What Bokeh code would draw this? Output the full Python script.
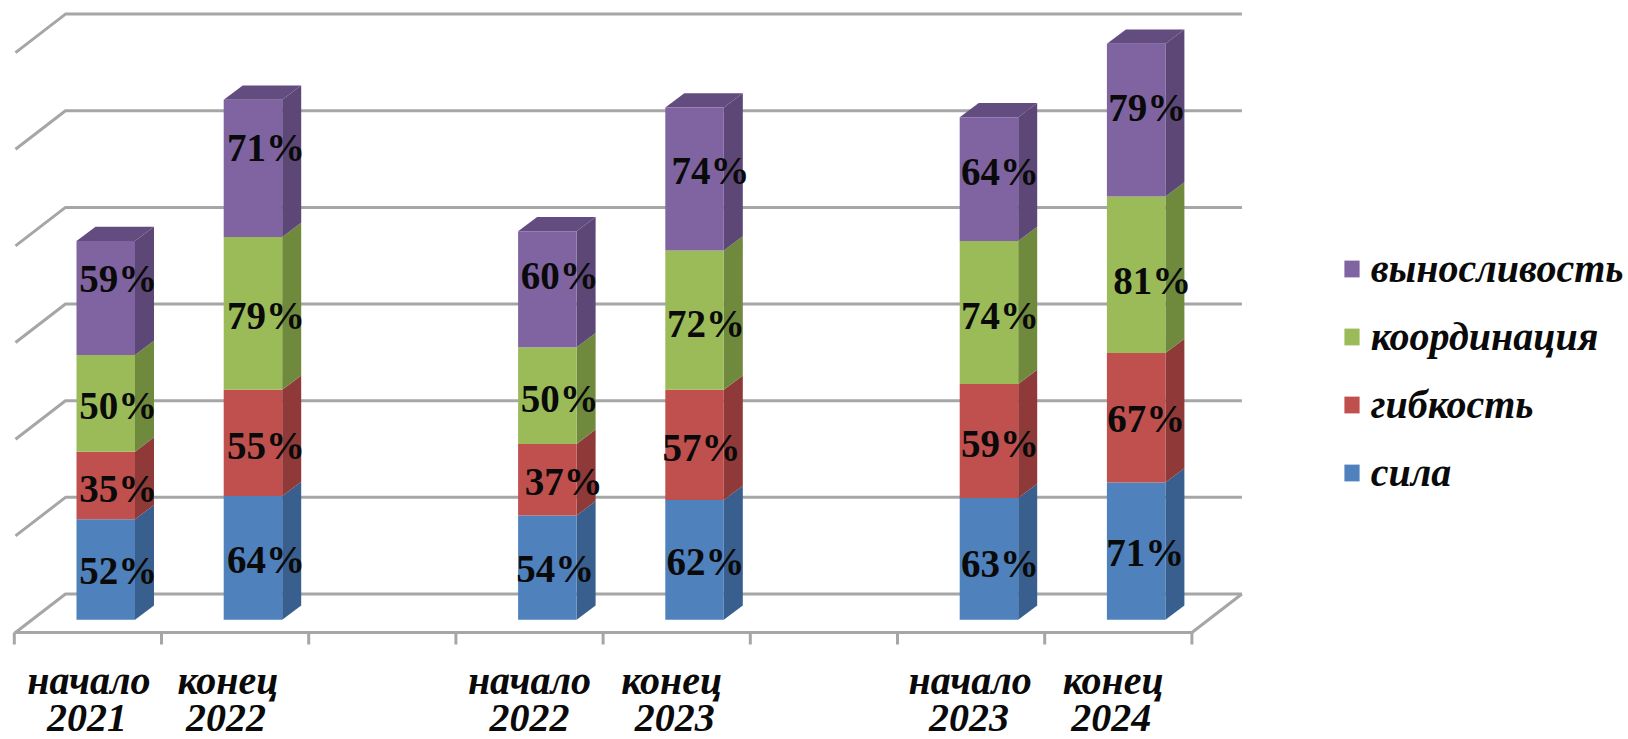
from bokeh.plotting import figure
from bokeh.models import ColumnDataSource, Legend, LegendItem
from bokeh.core.properties import value
from bokeh.embed import file_html
from bokeh.resources import INLINE

# ---- data ----
positions = [0, 1, 3, 4, 6, 7]
tick_line1 = ["начало", "конец", "начало", "конец", "начало", "конец"]
tick_line2 = ["2021", "2022", "2022", "2023", "2023", "2024"]
sila = [52, 64, 54, 62, 63, 71]
gibkost = [35, 55, 37, 57, 59, 67]
koordinatsiya = [50, 79, 50, 72, 74, 81]
vynoslivost = [59, 71, 60, 74, 64, 79]
series_names = ["сила", "гибкость", "координация", "выносливость"]
grid_values = [0, 50, 100, 150, 200, 250, 300]
boundaries = [0, 1, 2, 3, 4, 5, 6, 7, 8]

# ---- styling ----
front_colors = ["#4F81BD", "#C0504D", "#9BBB59", "#8064A2"]
side_colors = ["#385F8E", "#8F3A38", "#6F8A3C", "#5C4776"]
top_colors = ["#3F6A9C", "#A0403E", "#7C9A46", "#634C80"]
GRID = "#A6A6A6"
TEXT = "#0A0A0A"
W, H = 1628, 739
PX_X, PX_Y = 147.2, 1.933          # pixels per category / per percent
ORIGIN_X, FLOOR_Y = 13.8, 632      # pixels of the front-left floor corner
BASE_Y = 619.3                     # pixel of value 0 at the bars' front
BAR_OFF, BAR_W = 62.2 / PX_X, 58.5 / PX_X
DX, DY = 19 / PX_X, 14.3 / PX_Y
WALL_DX, WALL_DY = 50 / PX_X, 38.5 / PX_Y
# offsets of the data labels from the middle of their segment, pixels
# (one row per bar, one column per series)
label_dy = [
    [1, 3, 2, -19],
    [2, 3, 2, -21],
    [1, 2, 3, -14],
    [2, 3, 3, -9],
    [5, 3, 3, -8],
    [1, 1, 6, -13],
]
label_dx = [
    [12.5, 12.5, 12.5, 12.5],
    [13, 13, 13, 13],
    [8, 16.5, 12.5, 12.5],
    [11, 7, 11.5, 16],
    [11, 11, 11, 11],
    [9, 10, 16, 11],
]
line1_dx = [1, -7, 0, -5, -1, -5]
line2_dx = [-1, -9, 0, -2, -2, -7]

x_start = -ORIGIN_X / PX_X
floor_v = -(FLOOR_Y - BASE_Y) / PX_Y
y_start = -(H - BASE_Y) / PX_Y

p = figure(width=W, height=H, output_backend="svg", toolbar_location=None,
           x_range=(x_start, x_start + W / PX_X),
           y_range=(y_start, y_start + H / PX_Y),
           x_axis_location=None, y_axis_location=None,
           min_border_left=0, min_border_right=0, min_border_top=0,
           min_border_bottom=0, outline_line_color=None)
p.grid.visible = False

# back wall lines
xs_grid, ys_grid = [], []
for v in grid_values:
    xs_grid.append([0.008, 0.008 + WALL_DX, 8 + WALL_DX])
    ys_grid.append([floor_v + v, floor_v + WALL_DY + v, floor_v + WALL_DY + v])
p.multi_line(xs_grid, ys_grid, line_color=GRID, line_width=3)
p.line([8, 8 + WALL_DX], [floor_v, floor_v + WALL_DY], line_color=GRID, line_width=3)

# floor edge with separators between categories
p.line([boundaries[0], boundaries[-1]], [floor_v, floor_v], line_color=GRID, line_width=3)
p.segment(x0=boundaries, x1=boundaries, y0=[floor_v] * 9, y1=[floor_v - 12 / PX_Y] * 9,
          line_color=GRID, line_width=3)

# bars
stack = [sila, gibkost, koordinatsiya, vynoslivost]
base = [0] * len(positions)
items = []
lab_x, lab_y, lab_t, lab_ox, lab_oy = [], [], [], [], []
for s, vals in enumerate(stack):
    top = [b + v for b, v in zip(base, vals)]
    left = [x + BAR_OFF for x in positions]
    right = [x + BAR_W for x in left]
    p.patches([[r, r + DX, r + DX, r] for r in right],
              [[b, b + DY, t + DY, t] for b, t in zip(base, top)],
              fill_color=side_colors[s], line_color=None)
    if s == 3:
        p.patches([[l, l + DX, r + DX, r] for l, r in zip(left, right)],
                  [[t, t + DY, t + DY, t] for t in top],
                  fill_color=top_colors[s], line_color=None)
    q = p.quad(left=left, right=right, bottom=base, top=top,
               fill_color=front_colors[s], line_color=None)
    items.append(LegendItem(label=series_names[s], renderers=[q]))
    for i, v in enumerate(vals):
        lab_x.append(left[i] + BAR_W / 2)
        lab_y.append(base[i] + v / 2)
        lab_t.append(f"{v}%")
        lab_ox.append(label_dx[i][s])
        lab_oy.append(label_dy[i][s])
    base = top

src = ColumnDataSource(dict(x=lab_x, y=lab_y, t=lab_t, ox=lab_ox, oy=lab_oy))
p.text("x", "y", text="t", source=src, x_offset="ox", y_offset="oy",
       text_font=value("Liberation Serif"), text_font_style="bold",
       text_font_size="39px", text_color=TEXT,
       text_align="center", text_baseline="middle")

# two-line category labels under the floor
LINE1_Y, LINE2_Y = (BASE_Y - 680) / PX_Y, (BASE_Y - 717) / PX_Y
cat_x = [x + 0.5 for x in positions]
for txt, yy, off in ((tick_line1, LINE1_Y, line1_dx), (tick_line2, LINE2_Y, line2_dx)):
    s = ColumnDataSource(dict(x=cat_x, y=[yy] * len(cat_x), t=txt, o=off))
    p.text("x", "y", text="t", source=s, x_offset="o",
           text_font=value("Liberation Serif"), text_font_style="bold italic",
           text_font_size="40px", text_color=TEXT,
           text_align="center", text_baseline="alphabetic")

# legend
legend = Legend(items=items[::-1], location=(1341.7, 243.5), orientation="vertical",
                background_fill_alpha=0, border_line_color=None,
                padding=0, margin=0, spacing=21, label_standoff=10,
                glyph_width=19, glyph_height=21, label_height=21,
                label_text_font="Liberation Serif", label_text_font_style="bold italic",
                label_text_font_size="40px", label_text_color=TEXT)
p.add_layout(legend, "center")

open("out.html", "w").write(file_html(p, INLINE))
